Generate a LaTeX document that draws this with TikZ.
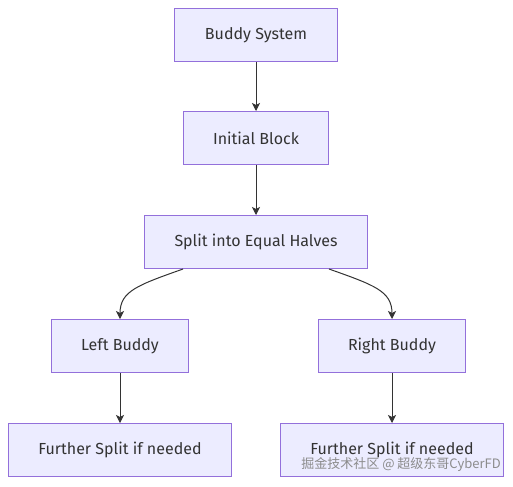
\documentclass[tikz,border=0pt]{standalone}
\usepackage{fontspec}
\setmainfont{Fira Sans}
\newfontfamily\cjkfont{Noto Sans CJK SC}
\usetikzlibrary{arrows.meta}
\definecolor{boxfill}{HTML}{ECECFF}
\definecolor{boxline}{HTML}{9370DB}
\definecolor{inktext}{HTML}{333333}
\begin{document}
\begin{tikzpicture}[x=0.75pt, y=-0.75pt,
    block/.style={draw=boxline, fill=boxfill, line width=0.75pt, text=inktext,
        font=\fontsize{12}{14}\selectfont, inner xsep=22.5pt,
        minimum height=39.75pt},
    link/.style={draw=inktext, line width=0.75pt,
        -{Stealth[length=6pt, width=6pt, inset=1.5pt]}}]
    % Rahmen des Bildes
    \useasboundingbox (0,0) rectangle (513,486);

    % Bloecke
    \node[block] (buddy) at (256,35) {Buddy System};
    \node[block] (initial) at (256,138) {Initial Block};
    \node[block] (split) at (256,242) {Split into Equal Halves};
    \node[block] (left) at (120,346) {Left Buddy};
    \node[block] (right) at (392,346) {Right Buddy};
    \node[block] (leftmore) at (120,450) {Further Split if needed};
    \node[block] (rightmore) at (392,450) {Further Split if needed};

    % Verbindungen
    \draw[link] (buddy) -- (initial);
    \draw[link] (initial) -- (split);
    \draw[link] (split.south west) ++(39,0)
        .. controls +(-45,16) and +(0,-28) .. (left.north);
    \draw[link] (split.south east) ++(-39,0)
        .. controls +(45,16) and +(0,-28) .. (right.north);
    \draw[link] (left) -- (leftmore);
    \draw[link] (right) -- (rightmore);

    % Wasserzeichen
    \node[anchor=east, text=black!45, font=\cjkfont\fontsize{9.75}{11}\selectfont,
        inner sep=0pt] (mark) at (501,464) {掘金技术社区 @ 超级东哥CyberFD};
\end{tikzpicture}
\end{document}
